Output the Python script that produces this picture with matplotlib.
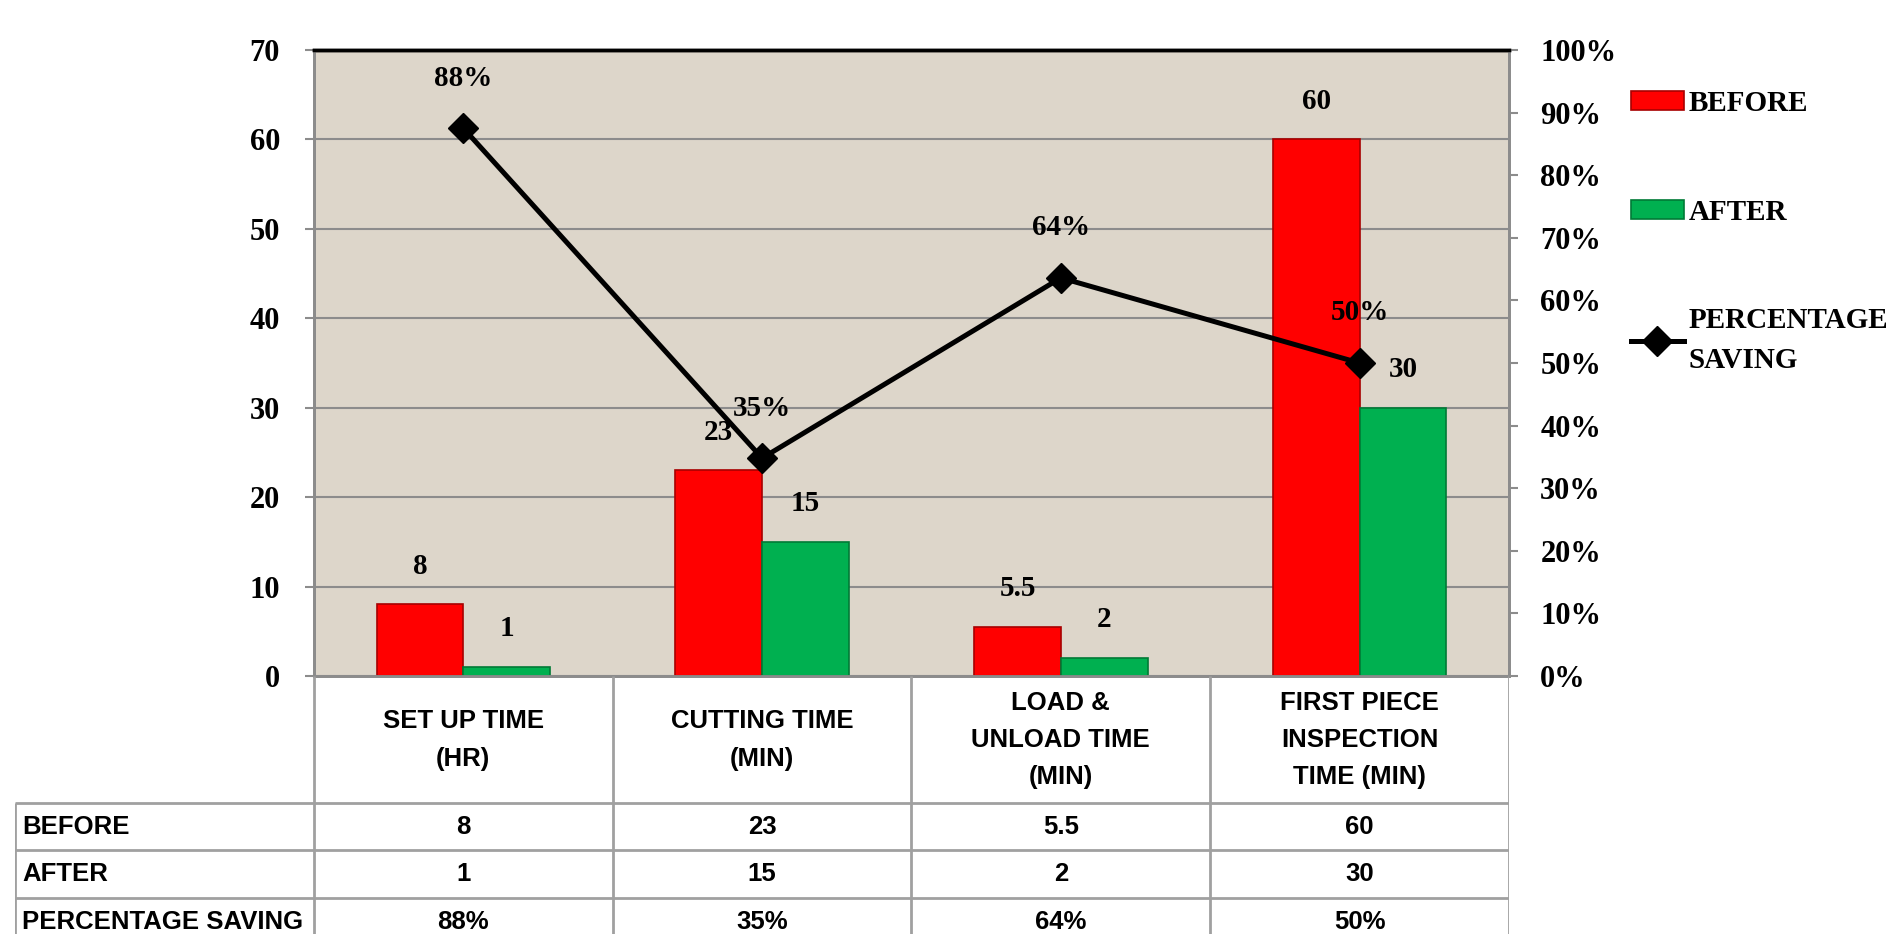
import matplotlib
matplotlib.use('Agg')
import matplotlib.pyplot as plt
import numpy as np
from matplotlib.ticker import PercentFormatter, MultipleLocator

# ---------------- data ----------------
categories = ["SET UP TIME\n(HR)", "CUTTING TIME\n(MIN)",
              "LOAD &\nUNLOAD TIME\n(MIN)", "FIRST PIECE\nINSPECTION\nTIME (MIN)"]
before = [8, 23, 5.5, 60]
after = [1, 15, 2, 30]
saving = [0.875, 0.348, 0.636, 0.50]
before_labels = ["8", "23", "5.5", "60"]
after_labels = ["1", "15", "2", "30"]
saving_labels = ["88%", "35%", "64%", "50%"]
row_names = ["BEFORE", "AFTER", "PERCENTAGE SAVING"]
series_names = ["BEFORE", "AFTER", "PERCENTAGE\nSAVING"]

# ---------------- style ----------------
SERIF = ['Liberation Serif', 'DejaVu Serif']
SANS = ['Liberation Sans', 'DejaVu Sans']
GRID = '#8C8C8C'
BORDER = '#A0A0A0'

W, H = 1895, 934
fig = plt.figure(figsize=(W / 100, H / 100), dpi=100)

ax = fig.add_axes([314 / W, 1 - 676 / H, (1509 - 314) / W, (676 - 50) / H])
ax.set_facecolor('#DDD6CA')
x = np.arange(len(categories))
w = 0.29
b1 = ax.bar(x - w / 2, before, w, color='#FF0000', edgecolor='#A80000',
            linewidth=1.2, zorder=3, label=series_names[0])
b2 = ax.bar(x + w / 2, after, w, color='#00B050', edgecolor='#007A36',
            linewidth=1.2, zorder=3, label=series_names[1])
ax.set_xlim(-0.5, len(categories) - 0.5)
ax.set_ylim(0, 70)
ax.yaxis.set_major_locator(MultipleLocator(10))
ax.set_axisbelow(True)
ax.grid(axis='y', color=GRID, linewidth=1.5, zorder=1)
ax.set_xticks([])
ax.tick_params(axis='y', direction='out', length=6.5, width=1.5, color=GRID, pad=18)
for lab in ax.get_yticklabels():
    lab.set_fontfamily(SERIF)
    lab.set_fontweight('bold')
    lab.set_fontsize(22)

for rect, lab in zip(b1, before_labels):
    ax.annotate(lab, (rect.get_x() + rect.get_width() / 2, rect.get_height()),
                xytext=(0, 27.5), textcoords='offset points', ha='center', va='center',
                fontsize=21, fontweight='bold', family=SERIF, zorder=6)
for rect, lab in zip(b2, after_labels):
    ax.annotate(lab, (rect.get_x() + rect.get_width() / 2, rect.get_height()),
                xytext=(0, 27.5), textcoords='offset points', ha='center', va='center',
                fontsize=21, fontweight='bold', family=SERIF, zorder=6)

ax2 = ax.twinx()
ln, = ax2.plot(x, saving, color='black', lw=3.6, marker='D', markersize=15,
               zorder=5, label=series_names[2])
ax2.set_ylim(0, 1)
ax2.yaxis.set_major_locator(MultipleLocator(0.1))
ax2.yaxis.set_major_formatter(PercentFormatter(1.0, decimals=0))
ax2.tick_params(axis='y', direction='out', length=6.5, width=1.5, color=GRID, pad=16)
for lab in ax2.get_yticklabels():
    lab.set_fontfamily(SERIF)
    lab.set_fontweight('bold')
    lab.set_fontsize(22)
for xi, yi, lab in zip(x, saving, saving_labels):
    ax2.annotate(lab, (xi, yi), xytext=(0, 36), textcoords='offset points',
                 ha='center', va='center', fontsize=21, fontweight='bold',
                 family=SERIF, zorder=7)

for a in (ax, ax2):
    a.spines['top'].set_color('black')
    a.spines['top'].set_linewidth(2.5)
    a.spines['left'].set_color(GRID)
    a.spines['left'].set_linewidth(2)
    a.spines['right'].set_color(GRID)
    a.spines['right'].set_linewidth(2)
    a.spines['bottom'].set_color(GRID)
    a.spines['bottom'].set_linewidth(2)

# ---------------- legend ----------------
leg = fig.legend(handles=[b1, b2, ln], labels=series_names, loc='upper left',
                 bbox_to_anchor=(1631 / W, 1 - 90 / H), frameon=False,
                 borderpad=0, borderaxespad=0, handlelength=1.8, handleheight=0.65,
                 handletextpad=0.18, labelspacing=2.8,
                 prop={'family': SERIF, 'weight': 'bold', 'size': 21})
leg.get_texts()[2].set_linespacing(1.6)

# ---------------- data table ----------------
tab = fig.add_axes([15 / W, 0, (1509 - 15) / W, (H - 676) / H])
tab.set_xlim(-1.5, len(categories) - 0.5)
tab.set_ylim(934, 676)
tab.axis('off')
row_top = [803, 850, 898]
row_bot = [850, 898, 945]
tab.vlines(np.arange(len(categories) + 1) - 0.5, 676, 934, color=BORDER, lw=2)
tab.vlines([-1.5], row_top[0], 934, color=BORDER, lw=2)
tab.hlines(row_top, -1.5, len(categories) - 0.5, color=BORDER, lw=2)

for xi, cat in zip(x, categories):
    tab.text(xi, 740, cat, ha='center', va='center', fontsize=18.5, fontweight='bold',
             family=SANS, linespacing=1.7)
rows = [before_labels, after_labels, saving_labels]
for name, vals, t, b in zip(row_names, rows, row_top, row_bot):
    yc = (t + b) / 2
    tab.text(-1.5 + 0.025, yc, name, ha='left', va='center', fontsize=18.5,
             fontweight='bold', family=SANS)
    for xi, v in zip(x, vals):
        tab.text(xi, yc, v, ha='center', va='center', fontsize=18.5,
                 fontweight='bold', family=SANS)

fig.savefig('out.png', dpi=100)
